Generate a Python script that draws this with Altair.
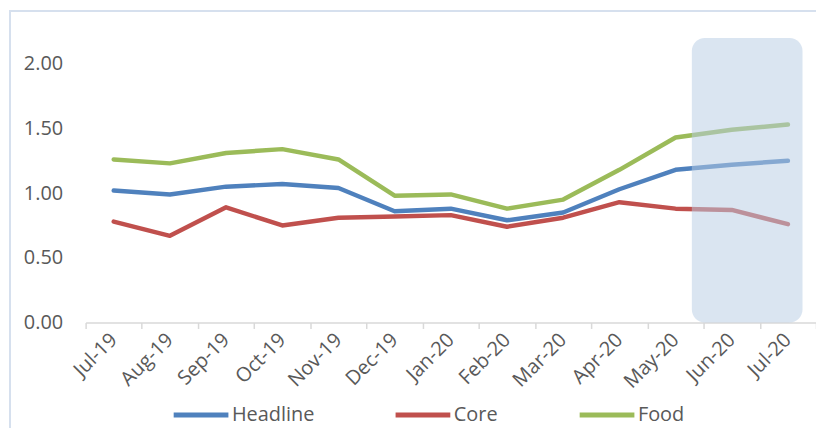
import altair as alt
import pandas as pd

MONTHS = ["Jul-19", "Aug-19", "Sep-19", "Oct-19", "Nov-19", "Dec-19", "Jan-20",
          "Feb-20", "Mar-20", "Apr-20", "May-20", "Jun-20", "Jul-20"]
HEADLINE = [1.02, 0.99, 1.05, 1.07, 1.04, 0.86, 0.88, 0.79, 0.85, 1.03, 1.18, 1.22, 1.25]
CORE = [0.78, 0.67, 0.89, 0.75, 0.81, 0.82, 0.83, 0.74, 0.81, 0.93, 0.88, 0.87, 0.76]
FOOD = [1.26, 1.23, 1.31, 1.34, 1.26, 0.98, 0.99, 0.88, 0.95, 1.18, 1.43, 1.49, 1.53]
SERIES = ["Headline", "Core", "Food"]
COLORS = ["#4F81BD", "#C0504D", "#9BBB59"]
Y_TICKS = [0, 0.5, 1.0, 1.5, 2.0]
HIGHLIGHT = {"x": 10.29, "x2": 12.26, "y": 0.0, "y2": 2.2}

rows = []
for name, vals in zip(SERIES, [HEADLINE, CORE, FOOD]):
    for i, (m, v) in enumerate(zip(MONTHS, vals)):
        rows.append({"series": name, "idx": i, "month": m, "value": v})
df = pd.DataFrame(rows)

W, H = 734, 286
FONT = "Open Sans"
TXT = "#595959"

label_arr = "[" + ",".join("'" + m + "'" for m in MONTHS) + ",'']"

xscale = alt.Scale(domain=[-0.5, 12.5], nice=False, zero=False)
yscale = alt.Scale(domain=[0, 2.2], nice=False)

frame = alt.Chart(pd.DataFrame({"a": [0]})).mark_rect(
    filled=False, stroke="#D6E0EE", strokeWidth=2
).encode(x=alt.value(-76), x2=alt.value(W + 60), y=alt.value(-27), y2=alt.value(H + 150))

lines = alt.Chart(df).mark_line(strokeWidth=4.5, strokeCap="round", strokeJoin="round").encode(
    x=alt.X("idx:Q", scale=xscale, axis=alt.Axis(
        values=[i - 0.5 for i in range(14)],
        labelExpr=label_arr + "[round(datum.value + 0.5)]",
        labelOffset=28, labelAngle=-45, labelAlign="right", labelBaseline="middle",
        labelPadding=8, labelFontSize=20, labelFont=FONT, labelColor=TXT,
        labelOverlap=False, labelFlush=False, labelBound=False,
        domainColor="#D9D9D9", domainWidth=1.5, tickColor="#D9D9D9", tickWidth=1.5,
        tickSize=6, grid=False, title=None)),
    y=alt.Y("value:Q", scale=yscale, axis=alt.Axis(
        values=Y_TICKS, format=".2f", domain=False, ticks=False, tickSize=0,
        labelPadding=23, labelFontSize=20, labelFont=FONT, labelColor=TXT,
        grid=False, title=None)),
    color=alt.Color("series:N", sort=SERIES, scale=alt.Scale(domain=SERIES, range=COLORS),
                    legend=alt.Legend(
                        orient="none", legendX=86, legendY=349, direction="horizontal",
                        symbolType="stroke", symbolSize=3025, symbolStrokeWidth=5,
                        labelFontSize=20, labelFont=FONT, labelColor=TXT,
                        columnPadding=71, labelOffset=1, title=None, padding=0,
                        labelLimit=0)),
    order=alt.Order("idx:Q"),
)

hl = alt.Chart(pd.DataFrame([HIGHLIGHT])).mark_rect(
    color="#B9CDE5", opacity=0.52, cornerRadius=13
).encode(x=alt.X("x:Q", scale=xscale), x2="x2:Q",
         y=alt.Y("y:Q", scale=yscale), y2="y2:Q")

chart = alt.layer(frame, lines, hl).properties(
    width=W, height=H,
    background="white",
    autosize=alt.AutoSizeParams(type="none"),
    padding={"left": 78, "top": 29, "right": 0, "bottom": 105},
).configure_view(stroke=None)

chart.save("out.html", embed_options={"renderer": "svg", "actions": False})
